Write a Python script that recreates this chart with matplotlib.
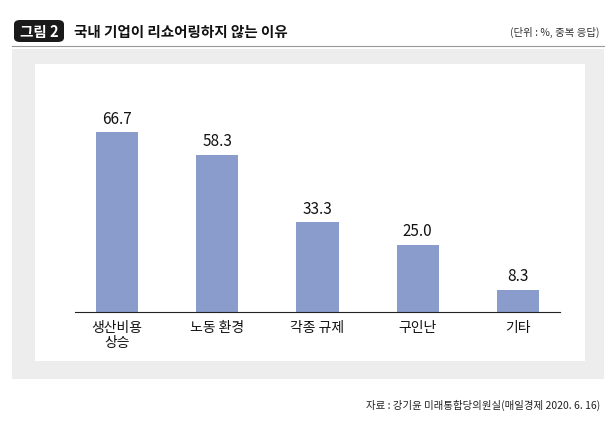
import matplotlib
matplotlib.use("Agg")
import matplotlib.pyplot as plt
from matplotlib.patches import FancyBboxPatch, Rectangle
from matplotlib import font_manager

names = {f.name for f in font_manager.fontManager.ttflist}
fam = [n for n in ["Noto Sans CJK KR", "Noto Sans CJK JP", "Noto Sans CJK SC", "Noto Sans CJK TC"] if n in names]
plt.rcParams['font.family'] = fam + ['DejaVu Sans']

categories = ["생산비용\n상승", "노동 환경", "각종 규제", "구인난", "기타"]
values = [66.7, 58.3, 33.3, 25.0, 8.3]
labels = ["66.7", "58.3", "33.3", "25.0", "8.3"]

W, H = 616, 427
fig = plt.figure(figsize=(W/100, H/100), dpi=100)
fig.patch.set_facecolor('white')

fig.patches.append(Rectangle((12/W, 1-380/H), 592/W, 330/H, transform=fig.transFigure,
                             facecolor='#ededed', edgecolor='none', zorder=-10))
fig.patches.append(Rectangle((35/W, 1-362/H), 550/W, 297/H, transform=fig.transFigure,
                             facecolor='white', edgecolor='none', zorder=-9))
fig.patches.append(FancyBboxPatch((14/W, 1-43/H), 50/W, 22/H, transform=fig.transFigure,
                                  boxstyle="round,pad=0,rounding_size=0.01",
                                  facecolor='#1a1a1a', edgecolor='none'))
fig.text(39/W, 1-32/H, "그림 2", color='white', fontsize=10.5, fontweight='bold', ha='center', va='center')
fig.text(74/W, 1-32/H, "국내 기업이 리쇼어링하지 않는 이유", color='#111', fontsize=10.5, fontweight='bold', va='center')
fig.text(600/W, 1-32/H, "(단위 : %, 중복 응답)", color='#333', fontsize=7.5, ha='right', va='center')
fig.lines.append(plt.Line2D([12/W, 604/W], [1-47/H, 1-47/H], transform=fig.transFigure, color='#999', lw=0.8))
fig.text(600/W, 1-405/H, "자료 : 강기윤 미래통합당의원실(매일경제 2020. 6. 16)", color='#222', fontsize=7.5, ha='right', va='center')

ax = fig.add_axes([75/W, 1-313/H, 485/W, 200/H])
ax.set_zorder(5)
ax.set_facecolor('none')
x = range(len(values))
ax.bar(x, values, width=0.42, color='#8a9ccb')
for i, (v, l) in enumerate(zip(values, labels)):
    ax.text(i, v + 2, l, ha='center', va='bottom', fontsize=11, color='#111')
ax.set_xlim(-0.42, len(values) - 0.58)
ax.set_ylim(0, 200/2.7)
for s in ['top', 'right', 'left']:
    ax.spines[s].set_visible(False)
ax.spines['bottom'].set_color('#222')
ax.spines['bottom'].set_linewidth(0.8)
ax.set_yticks([])
ax.set_xticks(list(x))
ax.set_xticklabels(categories, fontsize=10, color='#111', linespacing=1.1)
ax.tick_params(axis='x', length=0, pad=6)

fig.savefig("out.png", dpi=100, facecolor='white')
